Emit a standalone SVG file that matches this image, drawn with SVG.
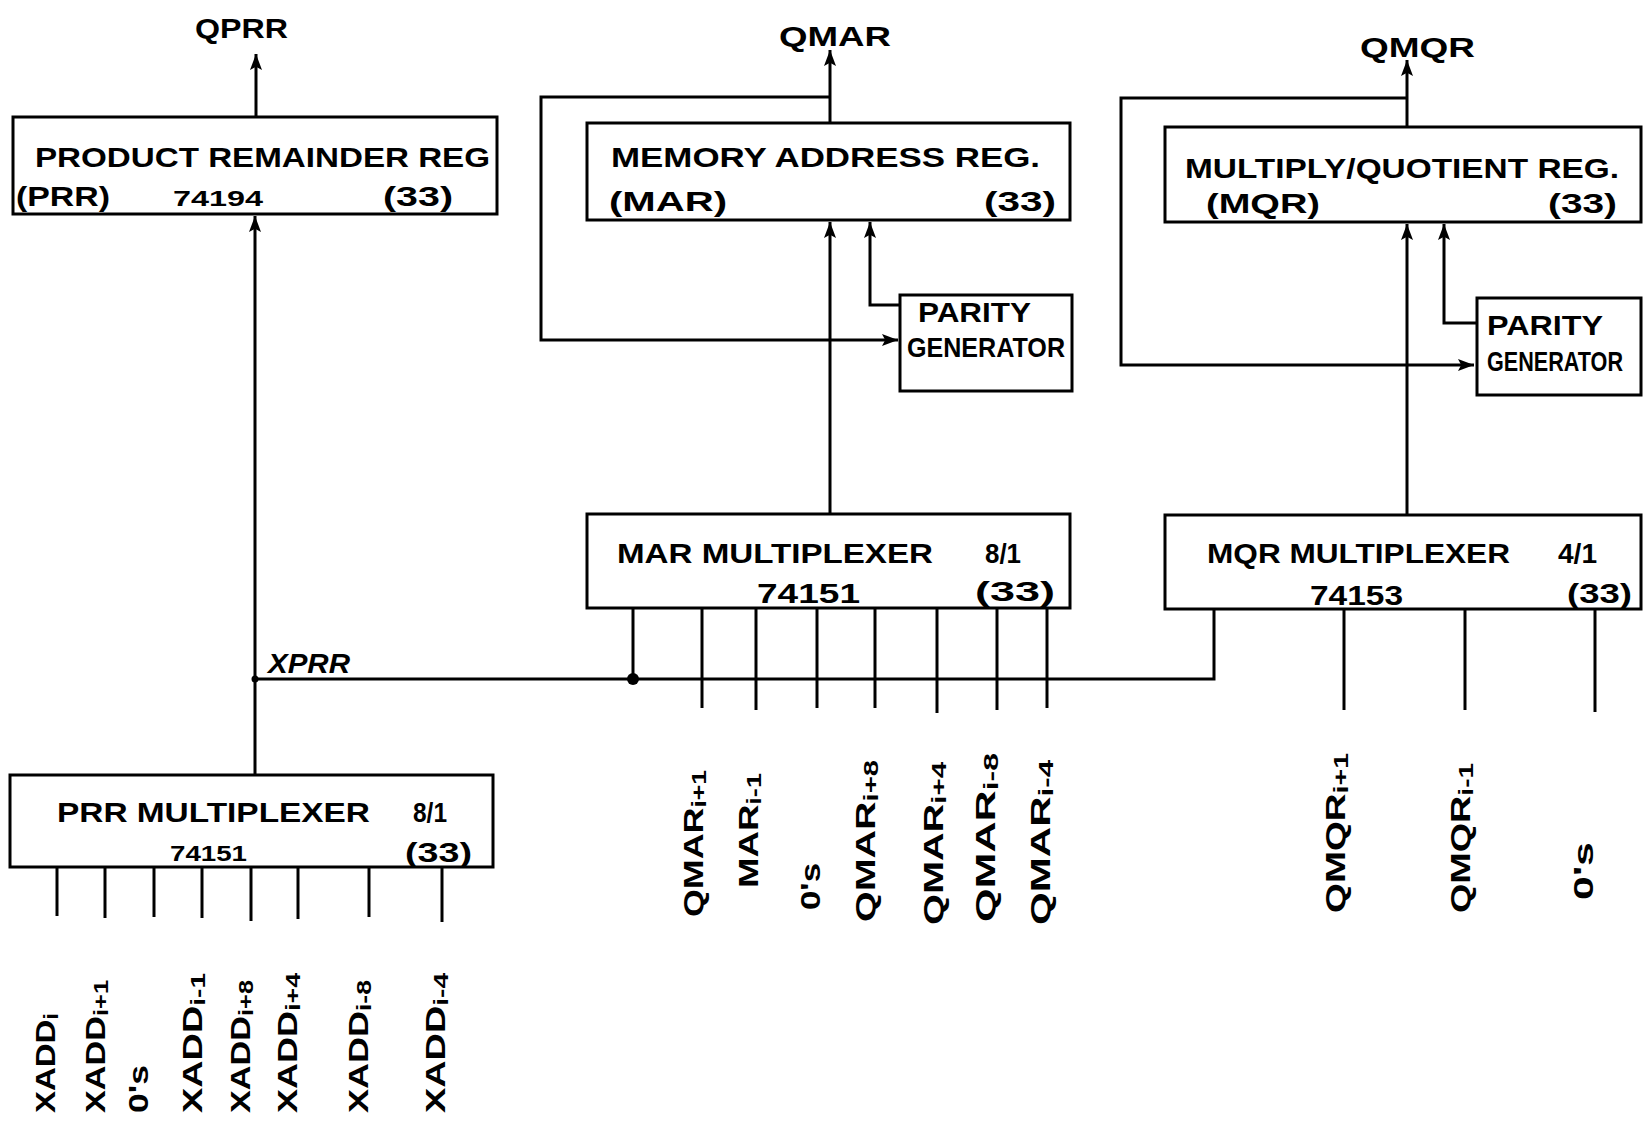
<svg xmlns="http://www.w3.org/2000/svg" width="1644" height="1124" viewBox="0 0 1644 1124">
<style>
.box{fill:none;stroke:#000;stroke-width:3}
.ln{fill:none;stroke:#000;stroke-width:3}
.t{font-family:"Liberation Sans",Arial,sans-serif;fill:#000;font-size:28px;font-weight:bold}
.s{font-size:22px}
.lab{font-family:"Liberation Sans",Arial,sans-serif;fill:#000;font-size:27px;font-weight:bold}
.sub{font-size:20px}
</style>
<defs>
<marker id="ah" viewBox="0 0 10 10" refX="10" refY="5" markerWidth="16" markerHeight="12" markerUnits="userSpaceOnUse" orient="auto" preserveAspectRatio="none"><path d="M0,0 L10,5 L0,10 L2,5 z" fill="#000"/></marker>
</defs>
<rect width="1644" height="1124" fill="#fff"/>

<g id="connectors">
<line class="ln" x1="256" y1="117" x2="256" y2="54" marker-end="url(#ah)"/>
<line class="ln" x1="830" y1="123" x2="830" y2="50" marker-end="url(#ah)"/>
<line class="ln" x1="1407" y1="127" x2="1407" y2="60" marker-end="url(#ah)"/>
<polyline class="ln" points="830,97 541,97 541,340 898,340" marker-end="url(#ah)"/>
<polyline class="ln" points="900,305 870,305 870,222" marker-end="url(#ah)"/>
<line class="ln" x1="830" y1="514" x2="830" y2="222" marker-end="url(#ah)"/>
<polyline class="ln" points="1407,98 1121,98 1121,365 1474,365" marker-end="url(#ah)"/>
<polyline class="ln" points="1476,323 1444,323 1444,224" marker-end="url(#ah)"/>
<line class="ln" x1="1407" y1="514" x2="1407" y2="224" stroke-width="4" marker-end="url(#ah)"/>
<line class="ln" x1="255" y1="775" x2="255" y2="216" marker-end="url(#ah)"/>
<polyline class="ln" points="255,679 1214,679 1214,610"/>
<line class="ln" x1="633" y1="608" x2="633" y2="679"/>
<circle cx="633" cy="679" r="6" fill="#000"/>
<circle cx="255" cy="679" r="3.5" fill="#000"/>
<text class="t" x="268" y="673" font-size="26" font-style="italic" textLength="82" lengthAdjust="spacingAndGlyphs">XPRR</text>
<g class="ln">
<line x1="702" y1="608" x2="702" y2="708"/>
<line x1="756" y1="608" x2="756" y2="710"/>
<line x1="817" y1="608" x2="817" y2="708"/>
<line x1="875" y1="608" x2="875" y2="708"/>
<line x1="937" y1="608" x2="937" y2="713"/>
<line x1="997" y1="608" x2="997" y2="710"/>
<line x1="1047" y1="608" x2="1047" y2="708"/>
<line x1="1344" y1="610" x2="1344" y2="710"/>
<line x1="1465" y1="610" x2="1465" y2="710"/>
<line x1="1595" y1="610" x2="1595" y2="712"/>
<line x1="57" y1="867" x2="57" y2="916"/>
<line x1="105" y1="867" x2="105" y2="918"/>
<line x1="154" y1="867" x2="154" y2="917"/>
<line x1="202" y1="867" x2="202" y2="918"/>
<line x1="251" y1="867" x2="251" y2="921"/>
<line x1="298" y1="867" x2="298" y2="919"/>
<line x1="369" y1="867" x2="369" y2="917"/>
<line x1="442" y1="867" x2="442" y2="922"/>
</g>
</g>

<g id="qprr"><text class="t" x="195" y="38" font-size="26" textLength="93" lengthAdjust="spacingAndGlyphs">QPRR</text></g>
<g id="qmar"><text class="t" x="779" y="46" font-size="26" textLength="112" lengthAdjust="spacingAndGlyphs">QMAR</text></g>
<g id="qmqr"><text class="t" x="1360" y="57" font-size="26" textLength="115" lengthAdjust="spacingAndGlyphs">QMQR</text></g>

<g id="prr-reg">
<rect class="box" x="13" y="117" width="484" height="97"/>
<text class="t" x="35" y="167" textLength="455" lengthAdjust="spacingAndGlyphs">PRODUCT REMAINDER REG</text>
<text class="t" x="16" y="206" font-size="27" textLength="94" lengthAdjust="spacingAndGlyphs">(PRR)</text>
<text class="t s" x="173" y="206" textLength="90" lengthAdjust="spacingAndGlyphs">74194</text>
<text class="t" x="383" y="206" font-size="26" textLength="70" lengthAdjust="spacingAndGlyphs">(33)</text>
</g>

<g id="mar-reg">
<rect class="box" x="587" y="123" width="483" height="97"/>
<text class="t" x="611" y="167" textLength="429" lengthAdjust="spacingAndGlyphs">MEMORY ADDRESS  REG.</text>
<text class="t" x="609" y="211" textLength="118" lengthAdjust="spacingAndGlyphs">(MAR)</text>
<text class="t" x="984" y="211" font-size="26" textLength="72" lengthAdjust="spacingAndGlyphs">(33)</text>
</g>

<g id="mar-parity">
<rect class="box" x="900" y="295" width="172" height="96"/>
<text class="t" x="918" y="322" font-size="24" textLength="113" lengthAdjust="spacingAndGlyphs">PARITY</text>
<text class="t" x="907" y="357" font-size="22" textLength="158" lengthAdjust="spacingAndGlyphs">GENERATOR</text>
</g>

<g id="mqr-reg">
<rect class="box" x="1165" y="127" width="476" height="95"/>
<text class="t" x="1185" y="178" textLength="434" lengthAdjust="spacingAndGlyphs">MULTIPLY/QUOTIENT REG.</text>
<text class="t" x="1206" y="213" textLength="114" lengthAdjust="spacingAndGlyphs">(MQR)</text>
<text class="t" x="1548" y="213" font-size="26" textLength="69" lengthAdjust="spacingAndGlyphs">(33)</text>
</g>

<g id="mqr-parity">
<rect class="box" x="1477" y="298" width="164" height="97"/>
<text class="t" x="1487" y="335" font-size="24" textLength="116" lengthAdjust="spacingAndGlyphs">PARITY</text>
<text class="t" x="1487" y="371" font-size="19" textLength="136" lengthAdjust="spacingAndGlyphs">GENERATOR</text>
</g>

<g id="mar-mux">
<rect class="box" x="587" y="514" width="483" height="94"/>
<text class="t" x="617" y="563" textLength="316" lengthAdjust="spacingAndGlyphs">MAR MULTIPLEXER</text>
<text class="t" x="985" y="563" font-size="26" textLength="36" lengthAdjust="spacingAndGlyphs">8/1</text>
<text class="t" x="757" y="603" font-size="24" textLength="103" lengthAdjust="spacingAndGlyphs">74151</text>
<text class="t" x="975" y="601" font-size="26" textLength="80" lengthAdjust="spacingAndGlyphs">(33)</text>
</g>

<g id="mqr-mux">
<rect class="box" x="1165" y="515" width="476" height="94"/>
<text class="t" x="1207" y="563" textLength="303" lengthAdjust="spacingAndGlyphs">MQR MULTIPLEXER</text>
<text class="t" x="1558" y="563" font-size="26" textLength="39" lengthAdjust="spacingAndGlyphs">4/1</text>
<text class="t" x="1310" y="605" font-size="24" textLength="93" lengthAdjust="spacingAndGlyphs">74153</text>
<text class="t" x="1567" y="603" font-size="24" textLength="65" lengthAdjust="spacingAndGlyphs">(33)</text>
</g>

<g id="prr-mux">
<rect class="box" x="10" y="775" width="483" height="92"/>
<text class="t" x="57" y="822" textLength="313" lengthAdjust="spacingAndGlyphs">PRR MULTIPLEXER</text>
<text class="t" x="413" y="822" font-size="26" textLength="34" lengthAdjust="spacingAndGlyphs">8/1</text>
<text class="t s" x="170" y="861" textLength="77" lengthAdjust="spacingAndGlyphs">74151</text>
<text class="t" x="405" y="862" font-size="26" textLength="67" lengthAdjust="spacingAndGlyphs">(33)</text>
</g>

<g id="prr-inputs">
<text class="lab" transform="translate(55,1113) rotate(-90)" textLength="100" lengthAdjust="spacingAndGlyphs">XADD<tspan class="sub" dy="3">i</tspan></text>
<text class="lab" transform="translate(105,1113) rotate(-90)" textLength="133" lengthAdjust="spacingAndGlyphs">XADD<tspan class="sub" dy="3">i+1</tspan></text>
<text class="lab" transform="translate(148,1113) rotate(-90)" textLength="48" lengthAdjust="spacingAndGlyphs">0's</text>
<text class="lab" transform="translate(202,1113) rotate(-90)" textLength="140" lengthAdjust="spacingAndGlyphs">XADD<tspan class="sub" dy="3">i-1</tspan></text>
<text class="lab" transform="translate(250,1113) rotate(-90)" textLength="133" lengthAdjust="spacingAndGlyphs">XADD<tspan class="sub" dy="3">i+8</tspan></text>
<text class="lab" transform="translate(297,1113) rotate(-90)" textLength="140" lengthAdjust="spacingAndGlyphs">XADD<tspan class="sub" dy="3">i+4</tspan></text>
<text class="lab" transform="translate(368,1113) rotate(-90)" textLength="133" lengthAdjust="spacingAndGlyphs">XADD<tspan class="sub" dy="3">i-8</tspan></text>
<text class="lab" transform="translate(445,1113) rotate(-90)" textLength="140" lengthAdjust="spacingAndGlyphs">XADD<tspan class="sub" dy="3">i-4</tspan></text>
</g>

<g id="mar-inputs">
<text class="lab" transform="translate(703,917) rotate(-90)" textLength="147" lengthAdjust="spacingAndGlyphs">QMAR<tspan class="sub" dy="3">i+1</tspan></text>
<text class="lab" transform="translate(758,888) rotate(-90)" textLength="115" lengthAdjust="spacingAndGlyphs">MAR<tspan class="sub" dy="3">i-1</tspan></text>
<text class="lab" transform="translate(820,910) rotate(-90)" textLength="47" lengthAdjust="spacingAndGlyphs">0's</text>
<text class="lab" transform="translate(875,922) rotate(-90)" textLength="162" lengthAdjust="spacingAndGlyphs">QMAR<tspan class="sub" dy="3">i+8</tspan></text>
<text class="lab" transform="translate(943,925) rotate(-90)" textLength="163" lengthAdjust="spacingAndGlyphs">QMAR<tspan class="sub" dy="3">i+4</tspan></text>
<text class="lab" transform="translate(995,922) rotate(-90)" textLength="169" lengthAdjust="spacingAndGlyphs">QMAR<tspan class="sub" dy="3">i-8</tspan></text>
<text class="lab" transform="translate(1050,925) rotate(-90)" textLength="165" lengthAdjust="spacingAndGlyphs">QMAR<tspan class="sub" dy="3">i-4</tspan></text>
</g>

<g id="mqr-inputs">
<text class="lab" transform="translate(1345,913) rotate(-90)" textLength="160" lengthAdjust="spacingAndGlyphs">QMQR<tspan class="sub" dy="3">i+1</tspan></text>
<text class="lab" transform="translate(1470,913) rotate(-90)" textLength="150" lengthAdjust="spacingAndGlyphs">QMQR<tspan class="sub" dy="3">i-1</tspan></text>
<text class="lab" transform="translate(1593,900) rotate(-90)" textLength="58" lengthAdjust="spacingAndGlyphs">0's</text>
</g>
</svg>
